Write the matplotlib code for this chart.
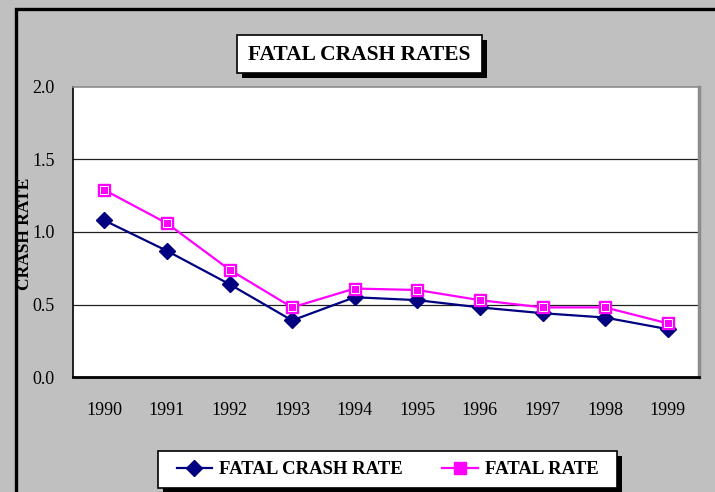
import matplotlib
matplotlib.use("Agg")
import matplotlib.pyplot as plt
from matplotlib.patches import Rectangle
from matplotlib.lines import Line2D

# --- data ---
years = ["1990", "1991", "1992", "1993", "1994", "1995", "1996", "1997", "1998", "1999"]
fatal_crash_rate = [1.08, 0.87, 0.64, 0.39, 0.55, 0.53, 0.48, 0.44, 0.41, 0.33]
fatal_rate = [1.29, 1.06, 0.74, 0.48, 0.61, 0.60, 0.53, 0.48, 0.48, 0.37]
y_ticks = [0.0, 0.5, 1.0, 1.5, 2.0]

W, H = 715, 492
NAVY = "#000080"
MAGENTA = "#FF00FF"
BG = "#C0C0C0"

plt.rcParams["font.family"] = ["Liberation Serif", "DejaVu Serif"]


def fx(px):
    return px / W


def fy(py):
    # pixel y measured from the top
    return 1 - py / H


def box_with_shadow(fig, x0, y0, x1, y1, off=5):
    """White framed box in pixel coords with a solid black drop shadow."""
    w, h = fx(x1 - x0), (y1 - y0) / H
    fig.patches.append(Rectangle((fx(x0 + off), fy(y1 + off)), w, h, transform=fig.transFigure,
                                 facecolor="black", edgecolor="none"))
    fig.patches.append(Rectangle((fx(x0), fy(y1)), w, h, transform=fig.transFigure,
                                 facecolor="white", edgecolor="black", linewidth=1.2))


fig = plt.figure(figsize=(W / 100, H / 100), dpi=100)
fig.patch.set_facecolor(BG)

# outer black frame (right/bottom edges run off the picture)
fig.patches.append(Rectangle((fx(16), fy(530)), fx(720), (530 - 8.5) / H,
                             transform=fig.transFigure, fill=False, edgecolor="black",
                             linewidth=2.4, zorder=0))

ax = fig.add_axes([fx(73), fy(377), fx(699 - 73), (377 - 87) / H])
ax.set_facecolor("white")
x = list(range(len(years)))

ax.plot(x, fatal_crash_rate, color=NAVY, linewidth=1.6, marker="D", markersize=8,
        markerfacecolor=NAVY, markeredgecolor=NAVY, zorder=3)
ax.plot(x, fatal_rate, color=MAGENTA, linewidth=1.6, marker="s", markersize=9,
        markerfacecolor=MAGENTA, markeredgecolor=MAGENTA, zorder=4)
# inner highlight of the square markers
ax.plot(x, fatal_rate, linestyle="none", marker="s", markersize=5.5,
        markerfacecolor=MAGENTA, markeredgecolor="white", markeredgewidth=0.7, zorder=5)

ax.set_xlim(-0.5, len(years) - 0.5)
ax.set_ylim(0, 2.0)
ax.set_yticks(y_ticks)
ax.set_yticklabels([f"{v:.1f}" for v in y_ticks], fontsize=13)
ax.set_xticks(x)
ax.set_xticklabels(years, fontsize=13)
ax.tick_params(length=0)
ax.tick_params(axis="y", pad=13)
ax.tick_params(axis="x", pad=18)
for v in y_ticks[1:-1]:
    ax.axhline(v, color="#202020", linewidth=0.9, zorder=1)

ax.spines["left"].set_color("black")
ax.spines["left"].set_linewidth(1.2)
ax.spines["bottom"].set_color("black")
ax.spines["bottom"].set_linewidth(2.0)
ax.spines["top"].set_color("#8c8c8c")
ax.spines["top"].set_linewidth(1.2)
ax.spines["right"].set_color("#8c8c8c")
ax.spines["right"].set_linewidth(2.5)

fig.text(fx(25), fy(234), "CRASH RATE", rotation=90, ha="center", va="center",
         fontsize=12.5, fontweight="bold")

# title box
tx0, ty0, tx1, ty1 = 237, 35, 482, 73
box_with_shadow(fig, tx0, ty0, tx1, ty1)
fig.text(fx((tx0 + tx1) / 2), fy((ty0 + ty1) / 2 + 1), "FATAL CRASH RATES", ha="center",
         va="center", fontsize=15.5, fontweight="bold")

# legend box
lx0, ly0, lx1, ly1 = 158, 451, 617, 488
box_with_shadow(fig, lx0, ly0, lx1, ly1)
handles = [
    Line2D([], [], color=NAVY, linewidth=1.6, marker="D", markersize=8,
           markerfacecolor=NAVY, markeredgecolor=NAVY),
    Line2D([], [], color=MAGENTA, linewidth=1.6, marker="s", markersize=8,
           markerfacecolor=MAGENTA, markeredgecolor=MAGENTA),
]
fig.legend(handles, ["FATAL CRASH RATE", "FATAL RATE"], loc="center",
           bbox_to_anchor=(fx((lx0 + lx1) / 2), fy((ly0 + ly1) / 2)), ncol=2,
           frameon=False, prop={"weight": "bold", "size": 13.5}, handlelength=1.9,
           handletextpad=0.37, columnspacing=2.1, borderpad=0)

fig.savefig("out.png", dpi=100, facecolor=BG)
